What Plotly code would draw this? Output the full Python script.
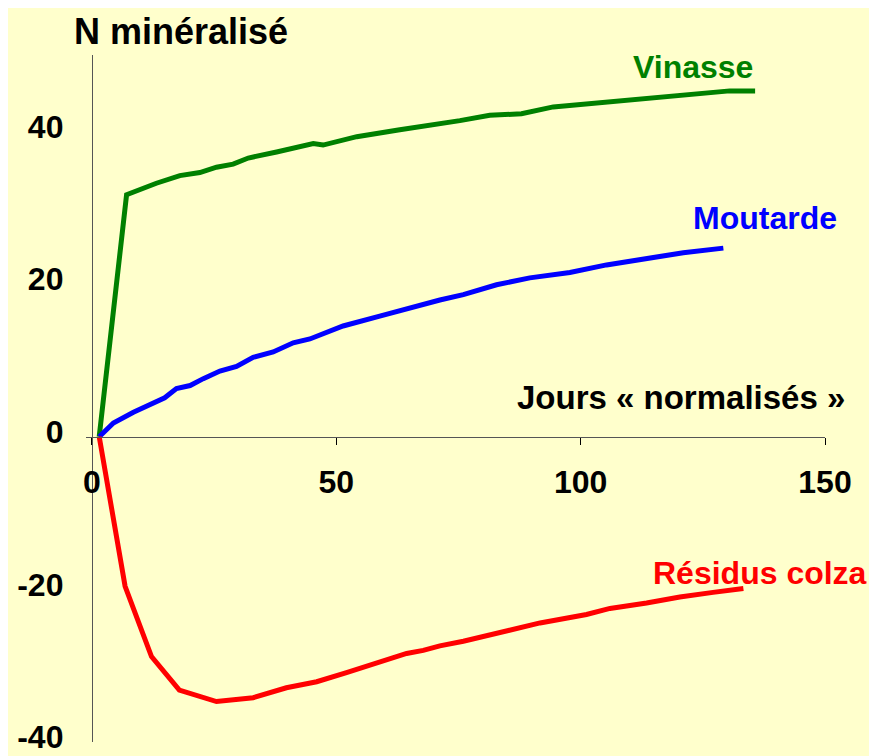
import plotly.graph_objects as go

# Series (x = jours normalisés, y = N minéralisé)
vinasse_x = [1.5, 7.1, 13.2, 18.0, 22.1, 25.5, 28.9, 32.0, 37.8, 45.3, 47.3, 54.2, 63.0, 71.2,
             75.3, 81.4, 87.9, 94.4, 103.3, 111.5, 118.3, 125.1, 130.5, 135.7]
vinasse_y = [0, 31.7, 33.2, 34.2, 34.6, 35.3, 35.7, 36.5, 37.3, 38.4, 38.2, 39.3, 40.2, 40.9,
             41.4, 42.1, 42.3, 43.2, 43.7, 44.2, 44.7, 45.0, 45.3, 45.3]

moutarde_x = [1.5, 4.4, 8.5, 11.9, 14.9, 17.3, 20.1, 22.8, 26.2, 29.6, 33.0, 37.1, 41.2, 44.6,
              51.4, 58.9, 65.1, 71.2, 76.0, 82.8, 89.6, 97.8, 105.3, 113.5, 121.0, 129.2]
moutarde_y = [0, 1.8, 3.2, 4.2, 5.1, 6.3, 6.7, 7.6, 8.6, 9.2, 10.4, 11.1, 12.3, 12.8,
              14.5, 15.8, 16.9, 17.9, 18.6, 19.9, 20.8, 21.5, 22.5, 23.4, 24.1, 24.7]

colza_x = [1.5, 6.8, 12.2, 17.9, 25.5, 33.0, 39.8, 46.0, 52.1, 58.3, 64.4, 67.8, 71.2, 76.0,
           80.1, 86.9, 91.7, 101.2, 106.0, 113.5, 120.3, 127.1, 133.3]
colza_y = [0, -19.6, -28.8, -33.2, -34.7, -34.2, -32.9, -32.1, -30.9, -29.7, -28.4, -28.0,
           -27.4, -26.8, -26.2, -25.2, -24.4, -23.3, -22.5, -21.8, -21.0, -20.4, -19.9]

series_names = ["Vinasse", "Moutarde", "Résidus colza"]
series_colors = ["#008000", "#0000FF", "#FF0000"]

x_ticks = [0, 50, 100, 150]
y_ticks = [-40, -20, 0, 20, 40]
y_tick_text = ["-40", "-20", "0", "20", "40"]
y_marked_ticks = [0, 20, 40]

x_title = "Jours « normalisés »"
y_title = "N minéralisé"

X_RANGE = [-1.2, 150]
Y_RANGE = [-40, 50]
BG = "#FFFFCC"
FONT = "Liberation Sans"

# where the axes cross (paper fractions)
x_axis_pos = (0 - Y_RANGE[0]) / (Y_RANGE[1] - Y_RANGE[0])
y_axis_pos = (0 - X_RANGE[0]) / (X_RANGE[1] - X_RANGE[0])

fig = go.Figure()
for xs, ys, name, color in zip([vinasse_x, moutarde_x, colza_x],
                               [vinasse_y, moutarde_y, colza_y],
                               series_names, series_colors):
    fig.add_trace(go.Scatter(x=xs, y=ys, mode="lines", name=name,
                             line=dict(color=color, width=5), showlegend=False))

tick_font = dict(family=FONT, size=32, color="black", weight="bold")

# page body adds 8px around the figure, so it is drawn 8px right / 8px down
fig.update_layout(
    width=869, height=748,
    margin=dict(l=78, r=52, t=47, b=14),
    paper_bgcolor=BG, plot_bgcolor=BG,
    xaxis=dict(range=X_RANGE, tickvals=x_ticks, ticks="outside", ticklen=7, tickcolor="black",
               tickwidth=1, showline=True, linecolor="#555555", linewidth=1,
               anchor="free", position=x_axis_pos, showgrid=False, zeroline=False,
               tickfont=tick_font, ticklabelstandoff=10, automargin=False),
    xaxis2=dict(range=X_RANGE, overlaying="x", tickvals=x_ticks, ticks="inside", ticklen=8,
                tickcolor="black", showticklabels=False, showline=False, showgrid=False,
                zeroline=False, anchor="free", position=x_axis_pos),
    yaxis=dict(range=Y_RANGE, tickvals=y_ticks, ticktext=y_tick_text, ticks="", showline=True,
               linecolor="#555555", linewidth=1, anchor="free", position=y_axis_pos,
               showgrid=False, zeroline=False, tickfont=tick_font, ticklabelstandoff=22,
               ticklabelshift=-5, ticklabeloverflow="allow", automargin=False),
    yaxis2=dict(range=Y_RANGE, overlaying="y", tickvals=y_marked_ticks, ticks="outside", ticklen=11,
                tickcolor="black", showticklabels=False, showline=False, showgrid=False,
                zeroline=False, anchor="free", position=y_axis_pos),
    yaxis3=dict(range=Y_RANGE, overlaying="y", tickvals=y_marked_ticks, ticks="inside", ticklen=12,
                tickcolor="black", showticklabels=False, showline=False, showgrid=False,
                zeroline=False, anchor="free", position=y_axis_pos),
)

label_pos = [(122.9, 48.4), (137.7, 28.7), (136.6, -17.8)]
for (lx, ly), name, color in zip(label_pos, series_names, series_colors):
    fig.add_annotation(x=lx, y=ly, text=name, showarrow=False,
                       xanchor="center", yanchor="middle",
                       font=dict(family=FONT, size=32, weight="bold", color=color))

fig.add_annotation(x=120.6, y=5.1, text=x_title, showarrow=False,
                   xanchor="center", yanchor="middle",
                   font=dict(family=FONT, size=33, weight="bold", color="black"))
fig.add_annotation(x=0.1286, y=1.0335, xref="paper", yref="paper", text=y_title,
                   showarrow=False, xanchor="center", yanchor="middle",
                   font=dict(family=FONT, size=36, weight="bold", color="black"))

fig.write_html("out.html")
